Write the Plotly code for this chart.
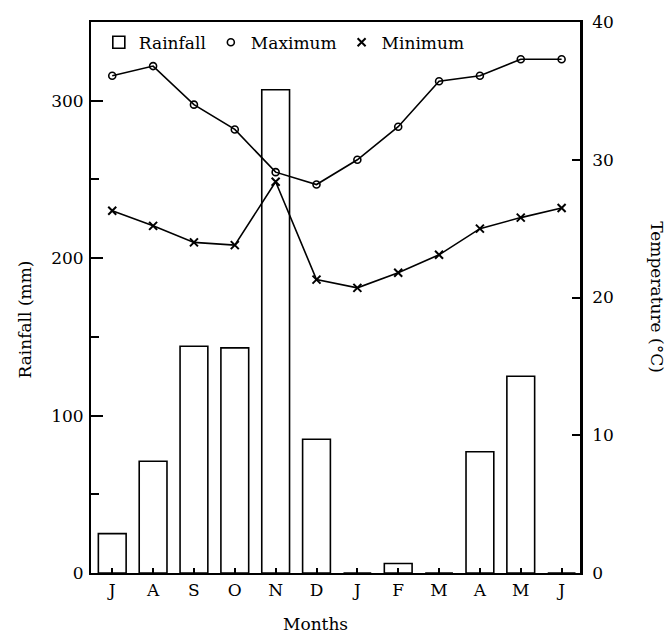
import plotly.graph_objects as go

months = ["J", "A", "S", "O", "N", "D", "J", "F", "M", "A", "M", "J"]
rainfall_mm = [25, 71, 144, 143, 307, 85, 0, 6, 0, 77, 125, 0]
temp_max = [36.1, 36.8, 34.0, 32.2, 29.1, 28.2, 30.0, 32.4, 35.7, 36.1, 37.3, 37.3]
temp_min = [26.3, 25.2, 24.0, 23.8, 28.4, 21.3, 20.7, 21.8, 23.1, 25.0, 25.8, 26.5]
rain_ticks = [0, 100, 200, 300]
temp_ticks = [0, 10, 20, 30, 40]

x = list(range(len(months)))
FONT = "DejaVu Serif"

fig = go.Figure()
fig.add_trace(go.Bar(
    x=x, y=rainfall_mm, name="Rainfall", width=0.68,
    marker=dict(color="rgba(255,255,255,0)", line=dict(color="black", width=1.6)),
    yaxis="y",
))
# lines (no legend entry)
fig.add_trace(go.Scatter(
    x=x, y=temp_max, name="Maximum", mode="lines", yaxis="y2", showlegend=False,
    line=dict(color="black", width=1.6), hoverinfo="skip",
))
fig.add_trace(go.Scatter(
    x=x, y=temp_min, name="Minimum", mode="lines", yaxis="y2", showlegend=False,
    line=dict(color="black", width=1.6), hoverinfo="skip",
))
# markers (legend shows marker only)
fig.add_trace(go.Scatter(
    x=x, y=temp_max, name="Maximum", mode="markers", yaxis="y2",
    marker=dict(symbol="circle-open", size=7, color="black", line=dict(width=1.6)),
))
fig.add_trace(go.Scatter(
    x=x, y=temp_min, name="Minimum", mode="markers", yaxis="y2",
    marker=dict(symbol="x-thin-open", size=8, color="black", line=dict(width=2)),
))

fig.update_layout(
    width=669, height=637,
    margin=dict(l=91, r=89, t=20, b=64),
    paper_bgcolor="white", plot_bgcolor="white",
    font=dict(family=FONT, size=17, color="black"),
    showlegend=True,
    legend=dict(
        orientation="h", x=0.016, y=0.995, xanchor="left", yanchor="top",
        bgcolor="rgba(0,0,0,0)", font=dict(family=FONT, size=17),
        itemwidth=30, tracegroupgap=0,
    ),
    xaxis=dict(
        range=[-0.52, 11.45], tickvals=x, ticktext=months,
        showline=True, linecolor="black", linewidth=2, mirror=True,
        ticks="inside", ticklen=5, tickwidth=1.5, tickcolor="black",
        showgrid=False, zeroline=False, ticklabelstandoff=1,
    ),
    yaxis=dict(
        range=[0, 350], tickvals=rain_ticks,
        showline=True, linecolor="black", linewidth=2,
        ticks="inside", ticklen=12, tickwidth=2, tickcolor="black",
        minor=dict(dtick=50, ticks="inside", ticklen=8, tickwidth=1.5, tickcolor="black"),
        showgrid=False, zeroline=False, ticklabelstandoff=2,
    ),
    yaxis2=dict(
        range=[0, 40], tickvals=temp_ticks, overlaying="y", side="right",
        showline=True, linecolor="black", linewidth=2.5,
        ticks="inside", ticklen=8, tickwidth=1.5, tickcolor="black",
        showgrid=False, zeroline=False, ticklabelstandoff=6,
    ),
    annotations=[
        dict(text="Rainfall (mm)", xref="paper", yref="paper", x=-0.135, y=0.46,
             textangle=-90, showarrow=False, font=dict(family=FONT, size=17),
             xanchor="center", yanchor="middle"),
        dict(text="Temperature (°C)", xref="paper", yref="paper", x=1.158, y=0.5,
             textangle=90, showarrow=False, font=dict(family=FONT, size=17),
             xanchor="center", yanchor="middle"),
        dict(text="Months", xref="paper", yref="paper", x=0.46, y=-0.093,
             showarrow=False, font=dict(family=FONT, size=17),
             xanchor="center", yanchor="middle"),
    ],
)

fig.write_html(
    "out.html",
    config={"displayModeBar": False},
    post_script="document.body.style.margin='0';document.body.style.overflow='hidden';",
)
